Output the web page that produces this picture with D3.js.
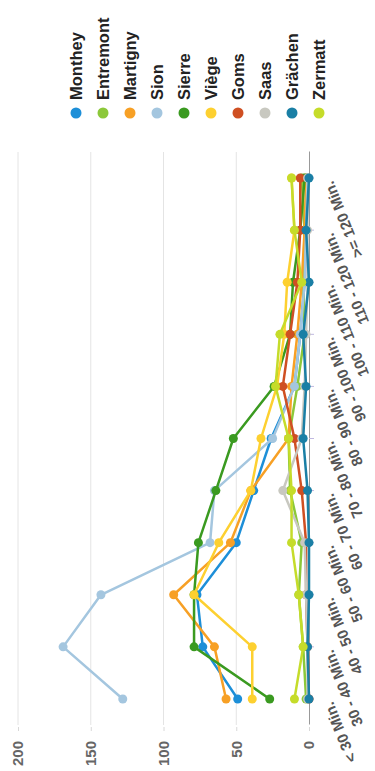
<!DOCTYPE html>
<html><head><meta charset="utf-8">
<script src="https://cdn.jsdelivr.net/npm/d3@7"></script>
<style>html,body{margin:0;padding:0;background:#fff;} svg{display:block;font-family:"Liberation Sans",Arial,sans-serif;}</style>
</head><body><div id="chart"></div>
<script>
const categories = ["< 30 Min.", "30 - 40 Min.", "40 - 50 Min.", "50 - 60 Min.", "60 - 70 Min.", "70 - 80 Min.", "80 - 90 Min.", "90 - 100 Min.", "100 - 110 Min.", "110 - 120 Min.", ">= 120 Min."];
const seriesNames = ["Monthey", "Entremont", "Martigny", "Sion", "Sierre", "Viège", "Goms", "Saas", "Grächen", "Zermatt"];
const seriesColors = ["#1d8fd8", "#8cc83a", "#f7a025", "#a4c6df", "#3a9a20", "#fdd030", "#cf4f22", "#c8c8c0", "#1a7fa5", "#c5dc2a"];
const monthey   = [49, 73, 77, 50, 38, 26, 10, 6, 3, 2, 1];
const entremont = [2, 4, 7, 5, 13, 14, 8, 3, 4, 3, 5];
const martigny  = [57, 65, 93, 54, 40, 14, 12, 8, 5, 3, 2];
const sion      = [128, 169, 143, 68, 65, 25, 10, 6, 3, 2, 1];
const sierre    = [27, 79, 79, 76, 64, 52, 24, 13, 11, 6, 3];
const viege     = [39, 39, 79, 62, 40, 33, 22, 17, 15, 10, 12];
const goms      = [0, 1, 2, 2, 5, 10, 18, 13, 8, 6, 6];
const saas      = [1, 1, 2, 3, 18, 5, 3, 2, 1, 1, 1];
const graechen  = [0, 1, 0, 0, 1, 4, 2, 4, 0, 2, 0];
const zermatt   = [10, 4, 7, 12, 12, 14, 23, 20, 5, 10, 12];
const valueTicks = [0, 50, 100, 150, 200];

const seriesValues = [monthey, entremont, martigny, sion, sierre, viege, goms, saas, graechen, zermatt];
const series = seriesNames.map((n, i) => ({name: n, color: seriesColors[i], values: seriesValues[i]}));

const W = 375, H = 771;
const svg = d3.select('#chart').append('svg').attr('width', W).attr('height', H);
// chart is drawn in an unrotated 771x375 frame, then rotated -90deg
const g = svg.append('g').attr('transform', `translate(0,${H}) rotate(-90)`);
const plot = {left: 46, right: 619, top: 18, bottom: 309};

const x = d3.scaleBand().domain(categories).range([plot.left, plot.right]).padding(0);
const cx = c => x(c) + x.bandwidth() / 2;
const y = d3.scaleLinear().domain([0, 200]).range([plot.bottom, plot.top]);

// gridlines
g.append('g').selectAll('line').data(valueTicks.filter(v => v > 0)).join('line')
  .attr('x1', plot.left).attr('x2', plot.right)
  .attr('y1', d => y(d)).attr('y2', d => y(d))
  .attr('stroke', '#e4e4e4').attr('stroke-width', 1);

// value axis labels
const yAxis = d3.axisLeft(y).tickValues(valueTicks).tickSize(4).tickPadding(10);
const ya = g.append('g').attr('transform', `translate(${plot.left - 2},0)`).call(yAxis);
ya.select('.domain').remove();
ya.selectAll('.tick line').attr('stroke', '#d8d8d8');
ya.selectAll('.tick text').attr('font-size', 15).attr('font-weight', 'bold').attr('fill', '#666')
  .attr('font-family', '"Liberation Sans",Arial,sans-serif');

// category axis
const xAxis = d3.axisBottom(x).tickSize(5).tickSizeOuter(0);
const xa = g.append('g').attr('transform', `translate(0,${plot.bottom})`).call(xAxis);
xa.select('.domain').attr('stroke', '#999').attr('stroke-width', 1);
xa.selectAll('.tick line').attr('stroke', '#c0b8e0');
xa.selectAll('.tick text')
  .attr('font-size', 15).attr('font-weight', 'bold').attr('fill', '#555')
  .attr('font-family', '"Liberation Sans",Arial,sans-serif')
  .attr('text-anchor', 'end').attr('dy', null).attr('y', null)
  .attr('transform', 'translate(-2,24) rotate(-22)');

// lines & markers
const line = d3.line().x((d, i) => cx(categories[i])).y(d => y(d));
const sg = g.append('g').selectAll('g').data(series).join('g');
sg.append('path').attr('d', d => line(d.values)).attr('fill', 'none')
  .attr('stroke', d => d.color).attr('stroke-width', 2.5).attr('stroke-linejoin', 'round');
sg.selectAll('circle').data(d => d.values.map((v, i) => ({v, i, color: d.color}))).join('circle')
  .attr('cx', d => cx(categories[d.i])).attr('cy', d => y(d.v)).attr('r', 4.5)
  .attr('fill', d => d.color);

// legend
const lg = g.append('g').selectAll('g').data(series).join('g')
  .attr('transform', (d, i) => `translate(658,${76 + 27 * i})`);
lg.append('circle').attr('r', 5.5).attr('fill', d => d.color);
lg.append('text').attr('x', 13).attr('y', 6).text(d => d.name)
  .attr('font-size', 16.5).attr('font-weight', 'bold').attr('fill', '#222');
</script></body></html>
